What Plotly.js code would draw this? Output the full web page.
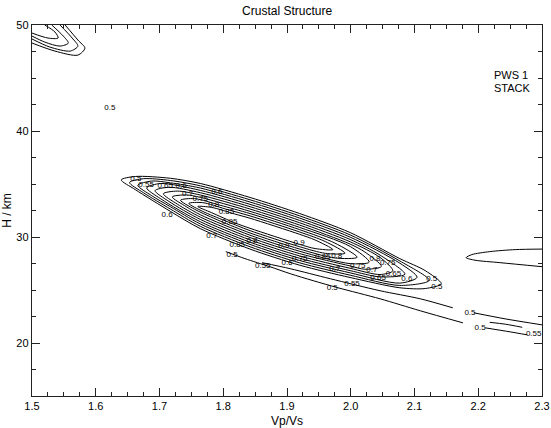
<!DOCTYPE html>
<html><head><meta charset="utf-8">
<script src="https://cdn.plot.ly/plotly-3.0.1.min.js"></script>
<style>html,body{margin:0;padding:0;background:#fff}#chart{width:551px;height:428px}</style>
</head><body><div id="chart"></div>
<script>
// Main elongated ridge: nested closed contours (levels 0.50 ... 0.95)
const c050x = [1.640,1.662,1.717,1.764,1.842,1.920,1.999,2.077,2.117,2.142,2.117,2.077,1.999,1.920,1.842,1.764,1.717,1.662,1.640];
const c050y = [35.39,35.71,35.54,35.05,33.73,32.21,30.42,27.96,26.82,25.59,25.14,25.21,26.18,27.34,28.86,30.79,32.42,34.47,35.39];
const c055x = [1.653,1.675,1.717,1.764,1.842,1.920,1.999,2.077,2.123,2.077,1.999,1.920,1.842,1.764,1.717,1.675,1.653];
const c055y = [35.14,35.50,35.33,34.83,33.51,31.99,30.20,27.74,25.91,25.43,26.40,27.56,29.08,31.01,32.64,34.17,35.14];
const c060x = [1.666,1.688,1.717,1.764,1.842,1.920,1.999,2.077,2.104,2.077,1.999,1.920,1.842,1.764,1.717,1.688,1.666];
const c060y = [34.88,35.28,35.11,34.62,33.30,31.78,29.99,27.53,26.20,25.65,26.62,27.78,29.30,31.23,32.86,33.89,34.88];
const c065x = [1.680,1.702,1.764,1.842,1.920,1.999,2.046,2.085,2.046,1.999,1.920,1.842,1.764,1.702,1.680];
const c065y = [34.63,35.05,34.40,33.08,31.56,29.77,28.29,26.49,26.24,26.83,27.99,29.51,31.44,33.60,34.63];
const c070x = [1.693,1.715,1.764,1.842,1.920,1.999,2.046,2.066,2.046,1.999,1.920,1.842,1.764,1.715,1.693];
const c070y = [34.37,34.69,34.18,32.86,31.34,29.55,28.07,26.81,26.46,27.05,28.21,29.73,31.66,33.35,34.37];
const c075x = [1.706,1.728,1.764,1.842,1.920,1.999,2.022,2.048,2.022,1.999,1.920,1.842,1.764,1.728,1.706];
const c075y = [34.08,34.33,33.96,32.64,31.12,29.33,28.59,27.22,26.96,27.27,28.43,29.95,31.88,33.10,34.08];
const c080x = [1.720,1.742,1.764,1.842,1.920,1.999,2.029,1.999,1.920,1.842,1.764,1.742,1.720];
const c080y = [33.78,33.97,33.74,32.42,30.90,29.11,27.63,27.49,28.65,30.17,32.10,32.86,33.78];
const c085x = [1.733,1.755,1.795,1.842,1.920,1.975,2.010,1.975,1.920,1.842,1.795,1.755,1.733];
const c085y = [33.47,33.62,33.00,32.21,30.69,29.43,28.09,28.02,28.86,30.38,31.51,32.62,33.47];
const c090x = [1.746,1.768,1.803,1.842,1.920,1.960,1.991,1.960,1.920,1.842,1.803,1.768,1.746];
const c090y = [33.17,33.24,32.65,31.99,30.47,29.57,28.47,28.46,29.08,30.60,31.53,32.41,33.17];
const c095x = [1.760,1.782,1.818,1.842,1.920,1.944,1.972,1.944,1.920,1.842,1.818,1.782,1.760];
const c095y = [32.88,32.79,32.17,31.77,30.25,29.72,28.81,28.91,29.30,30.82,31.34,32.29,32.88];

// Lower open contours
const lowAx = [1.804,1.834,1.873,1.905,1.941,1.980,2.046,2.109,2.176];
const lowAy = [28.62,27.96,27.20,26.54,25.88,25.21,24.17,23.04,21.90];
const lowBx = [1.861,1.905,1.968,2.046,2.109,2.160];
const lowBy = [27.58,27.01,26.06,24.93,24.17,23.32];

// Right-hand contours
const rightDx = [2.193,2.242,2.300];
const rightDy = [22.85,22.28,21.71];
const rightEx = [2.211,2.250,2.277];
const rightEy = [21.43,21.05,20.77];
const rightFx = [2.218,2.243,2.269];
const rightFy = [21.95,21.77,21.48];
const rightGx = [2.300,2.258,2.218,2.190,2.181,2.195,2.234,2.300];
const rightGy = [28.86,28.81,28.62,28.34,28.05,27.81,27.58,27.20];

// Top-left corner contours
const tl1x = [1.552,1.572,1.583,1.572,1.536,1.500];
const tl1y = [50.00,48.58,47.82,47.16,47.54,48.30];
const tl2x = [1.544,1.563,1.572,1.560,1.528,1.500];
const tl2y = [50.00,48.77,48.01,47.54,47.92,48.68];
const tl3x = [1.531,1.549,1.557,1.544,1.520,1.500];
const tl3y = [50.00,48.96,48.30,48.01,48.39,48.96];
const tl4x = [1.520,1.536,1.541,1.525,1.500];
const tl4y = [50.00,49.34,48.77,48.77,49.24];

// Contour labels
const labelText = ["0.5","0.5","0.55","0.65","0.6","0.7","0.75","0.8","0.6","0.85","0.95","0.6","0.7","0.85","0.8","0.9","0.9","0.6","0.75","0.85","0.8","0.7","0.75","0.8","0.75","0.7","0.65","0.65","0.6","0.5","0.5","0.5","0.55","0.5","0.55","0.5","0.5","0.55"];
const labelX = [1.622,1.663,1.679,1.709,1.734,1.744,1.764,1.785,1.790,1.805,1.810,1.712,1.782,1.822,1.845,1.895,1.919,1.900,1.920,1.956,1.978,1.975,2.011,2.038,2.058,2.033,2.043,2.067,2.088,2.127,2.135,1.814,1.862,1.971,2.002,2.187,2.203,2.287];
const labelY = [42.15,35.43,34.86,34.77,34.80,34.05,33.62,33.05,34.20,32.35,31.45,32.12,30.13,29.28,29.66,29.19,29.47,27.58,27.96,28.15,28.24,26.98,27.29,27.96,27.58,26.92,26.10,26.54,26.06,26.06,25.31,28.34,27.29,25.21,25.59,22.85,21.43,20.86];

const xTicks = [1.5,1.6,1.7,1.8,1.9,2.0,2.1,2.2,2.3];
const yTicks = [20,30,40,50];

const lineSets = [
  [c050x,c050y],[c055x,c055y],[c060x,c060y],[c065x,c065y],[c070x,c070y],
  [c075x,c075y],[c080x,c080y],[c085x,c085y],[c090x,c090y],[c095x,c095y],
  [lowAx,lowAy],[lowBx,lowBy],[rightDx,rightDy],[rightEx,rightEy],[rightFx,rightFy],[rightGx,rightGy],
  [tl1x,tl1y],[tl2x,tl2y],[tl3x,tl3y],[tl4x,tl4y]
];

const traces = lineSets.map(([x,y]) => ({
  type:'scatter', mode:'lines', x:x, y:y,
  line:{color:'#000', width:1, shape:'spline', smoothing:0.8},
  hoverinfo:'skip', showlegend:false
}));
traces.push({
  type:'scatter', mode:'text', x:labelX, y:labelY, text:labelText,
  textfont:{family:'Liberation Sans, Arial, sans-serif', size:8, color:'#000'},
  hoverinfo:'skip', showlegend:false, cliponaxis:false
});

const axisCommon = {
  showgrid:false, zeroline:false, showline:true, linecolor:'#222', linewidth:1.2,
  mirror:'allticks', ticks:'inside', ticklen:8, tickcolor:'#222', tickwidth:1,
  tickfont:{size:11, color:'#000'}
};

const layout = {
  width:551, height:428,
  margin:{l:32, r:9, t:25, b:32},
  paper_bgcolor:'#fff', plot_bgcolor:'#fff',
  font:{family:'Liberation Sans, Arial, sans-serif', color:'#000'},
  title:{text:'Crustal Structure', font:{size:12, color:'#000'}, x:0.521, xanchor:'center', y:0.975, yanchor:'middle'},
  xaxis:Object.assign({}, axisCommon, {
    range:[1.5,2.3], tickvals:xTicks, ticktext:xTicks.map(v=>v.toFixed(1)),
    minor:{dtick:0.025, tick0:1.5, ticks:'inside', ticklen:4, tickcolor:'#222'},
    title:{text:'Vp/Vs', font:{size:12}, standoff:6}
  }),
  yaxis:Object.assign({}, axisCommon, {
    range:[15,50], tickvals:yTicks, ticktext:yTicks.map(String),
    minor:{dtick:2.5, tick0:15, ticks:'inside', ticklen:4, tickcolor:'#222'},
    title:{text:'H / km', font:{size:12}, standoff:4}
  }),
  annotations:[
    {xref:'paper', yref:'paper', x:0.902, y:0.866, xanchor:'left', yanchor:'middle', text:'PWS 1', showarrow:false, font:{size:11}},
    {xref:'paper', yref:'paper', x:0.902, y:0.831, xanchor:'left', yanchor:'middle', text:'STACK', showarrow:false, font:{size:11}}
  ]
};

Plotly.newPlot('chart', traces, layout, {staticPlot:true, displayModeBar:false});
</script></body></html>
